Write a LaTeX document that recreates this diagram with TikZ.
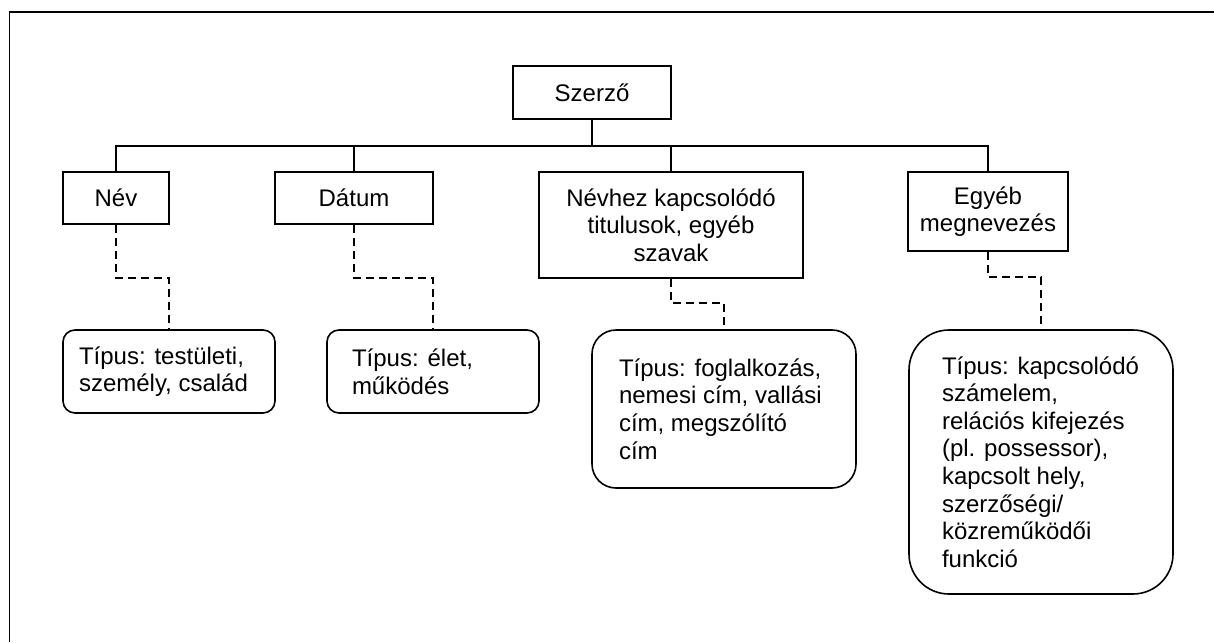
\documentclass[tikz,border=0pt]{standalone}
\usepackage{fontspec}
\setmainfont{Liberation Sans}
\usetikzlibrary{calc}
\tikzset{
  txt/.style={font=\fontsize{24}{27.6}\selectfont},
  box/.style={draw, line width=1.6pt, inner sep=0pt, align=center, txt},
  tbox/.style={draw, line width=1.6pt, inner sep=0pt, align=flush left, rounded corners=#1, txt},
  solidline/.style={line width=1.6pt},
  dashline/.style={line width=1.6pt, dash pattern=on 8pt off 5pt},
  frameline/.style={line width=1.8pt}
}
\begin{document}
\begin{tikzpicture}[x=1pt,y=-1pt]
\useasboundingbox (0,0) rectangle (1214,642);
% outer frame (only top and left edges visible)
\coordinate (ftr) at (1214,12);
\coordinate (ftl) at (9.5,12);
\coordinate (fbl) at (9.5,642);
\draw[frameline] (ftr) -- (ftl) -- (fbl);

% top-level nodes
\node[box, minimum width=158pt, minimum height=53pt] (sz) at (592,92.5) {Szerző};
\node[box, minimum width=106pt, minimum height=52pt] (nev) at (116,198) {Név};
\node[box, minimum width=158pt, minimum height=52pt] (dat) at (354,198) {Dátum};
\node[box, minimum width=264pt, minimum height=106pt] (nk) at (671,225) {Névhez kapcsolódó\\titulusok, egyéb\\szavak};
\node[box, minimum width=160pt, minimum height=79pt] (egy) at (988,211.5) {Egyéb\\megnevezés};

% rounded detail boxes
\node[tbox=12pt, minimum width=212pt, minimum height=83pt, text width=180pt] (t1) at (169,371.5) {Típus: testületi,\\személy, család};
\node[tbox=12pt, minimum width=212pt, minimum height=83pt, text width=162pt] (t2) at (433,371.5) {Típus: élet,\\működés};
\node[tbox=24pt, minimum width=264pt, minimum height=158pt, text width=210pt] (t3) at (724,409) {Típus: foglalkozás,\\nemesi cím, vallási\\cím, megszólító\\cím};
\node[tbox=40pt, minimum width=264pt, minimum height=264pt, text width=198pt] (t4) at (1041,462) {Típus: kapcsolódó\\számelem,\\relációs kifejezés\\(pl. possessor),\\kapcsolt hely,\\szerzőségi/\\közreműködői\\funkció};

% tree connectors
\coordinate (bar) at (0,146);
\draw[solidline] (sz.south) -- (sz.south |- bar);
\draw[solidline] (nev.north) -- (nev.north |- bar) -| (egy.north);
\draw[solidline] (dat.north) -- (dat.north |- bar);
\draw[solidline] (nk.north) -- (nk.north |- bar);

% dashed connectors
\draw[dashline] (nev.south) -- (nev.south |- 0,278) -| (t1.north);
\draw[dashline] (dat.south) -- (dat.south |- 0,278) -| (t2.north);
\draw[dashline] (nk.south) -- (nk.south |- 0,303) -| (t3.north);
\draw[dashline] (egy.south) -- (egy.south |- 0,277) -| (t4.north);
\end{tikzpicture}
\end{document}
